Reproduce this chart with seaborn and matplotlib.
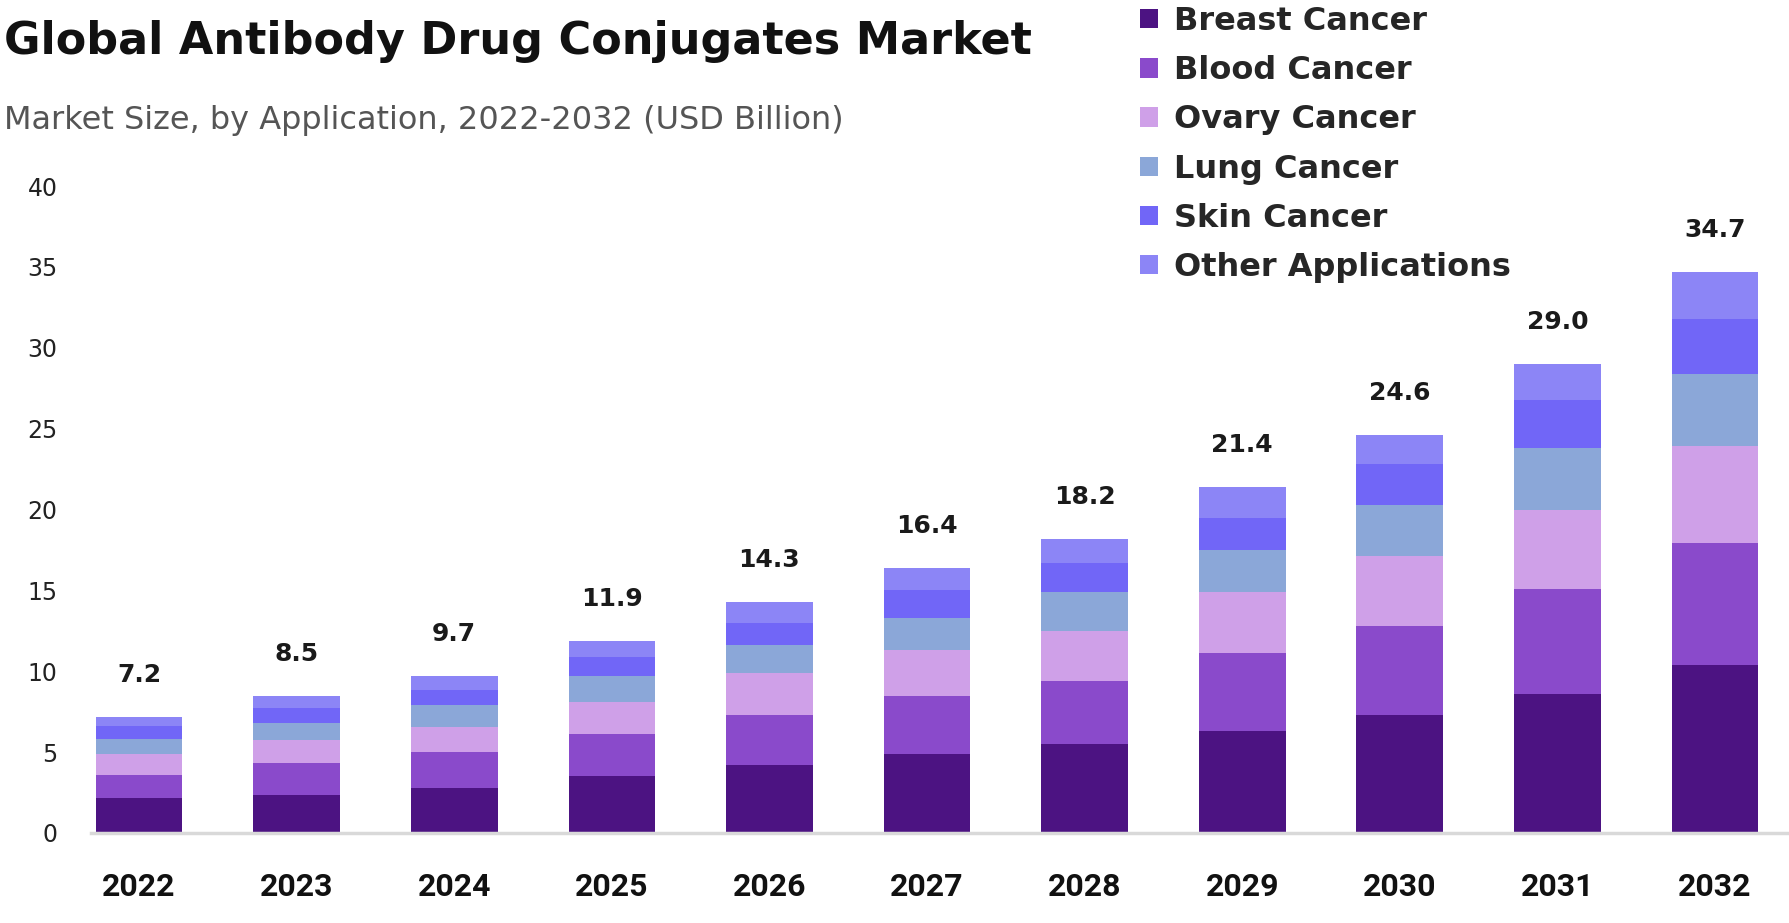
import matplotlib
matplotlib.use("Agg")
import numpy as np
import pandas as pd
import seaborn as sns
import matplotlib.pyplot as plt
from matplotlib.patches import Patch

# ---------------- data ----------------
years = ["2022", "2023", "2024", "2025", "2026", "2027", "2028", "2029", "2030", "2031", "2032"]
series_names = ["Breast Cancer", "Blood Cancer", "Ovary Cancer", "Lung Cancer", "Skin Cancer", "Other Applications"]
breast = [2.16, 2.35, 2.77, 3.5, 4.2, 4.9, 5.5, 6.3, 7.3, 8.6, 10.4]
blood = [1.44, 1.97, 2.21, 2.6, 3.1, 3.6, 3.9, 4.8, 5.5, 6.5, 7.5]
ovary = [1.27, 1.43, 1.60, 2.0, 2.6, 2.8, 3.1, 3.8, 4.3, 4.9, 6.0]
lung = [0.94, 1.05, 1.33, 1.6, 1.7, 2.0, 2.4, 2.6, 3.2, 3.8, 4.5]
skin = [0.83, 0.95, 0.94, 1.2, 1.4, 1.7, 1.8, 2.0, 2.5, 3.0, 3.4]
other = [0.56, 0.75, 0.85, 1.0, 1.3, 1.4, 1.5, 1.9, 1.8, 2.2, 2.9]
totals = [7.2, 8.5, 9.7, 11.9, 14.3, 16.4, 18.2, 21.4, 24.6, 29.0, 34.7]
y_ticks = [0, 5, 10, 15, 20, 25, 30, 35, 40]

colors = ["#4C1382", "#8A4ACB", "#CFA0E8", "#8BA7D8", "#7166F7", "#8C85F6"]

title = "Global Antibody Drug Conjugates Market"
subtitle = "Market Size, by Application, 2022-2032 (USD Billion)"

# ---------------- style ----------------
sns.set_theme(style="white")
plt.rcParams["font.family"] = ["DejaVu Sans"]

W, H = 1790, 923
fig = plt.figure(figsize=(W / 100, H / 100), dpi=100)
ax = fig.add_axes([91 / W, (H - 833) / H, 1 - 91 / W, (833 - 186) / H])

values = [breast, blood, ovary, lung, skin, other]
cum = np.cumsum(np.array(values), axis=0)

# draw cumulative tops from highest to lowest so they overlay into stacks
for i in range(len(series_names) - 1, -1, -1):
    df = pd.DataFrame({"Year": years, "Top": cum[i]})
    sns.barplot(data=df, x="Year", y="Top", order=years, color=colors[i],
                width=0.55, saturation=1, linewidth=0, ax=ax)

for i, t in enumerate(totals):
    ax.annotate(f"{t:.1f}", xy=(i, t), xytext=(0, 30), textcoords="offset pixels",
                ha="center", va="bottom", fontsize=18, fontweight="bold", color="#1a1a1a")

ax.set_ylim(0, 40)
ax.set_xlim(-0.305, 10.476)
ax.set_yticks(y_ticks)
ax.set_yticklabels([str(v) for v in y_ticks])
ax.set_xlabel("")
ax.set_ylabel("")
for s in ["top", "right", "left"]:
    ax.spines[s].set_visible(False)
ax.spines["bottom"].set_color("#d9d9d9")
ax.spines["bottom"].set_linewidth(2.5)
ax.tick_params(axis="y", length=0, pad=24, labelsize=17, labelcolor="#222222")
ax.tick_params(axis="x", length=0, pad=28, labelsize=23, labelcolor="#111111")
for lab in ax.get_xticklabels():
    lab.set_family(["Roboto", "DejaVu Sans"])
    lab.set_fontweight("bold")

# title / subtitle
fig.text(4 / W, 1 - 54 / H, title, fontsize=32, fontweight="bold",
         color="#111111", va="baseline", ha="left")
fig.text(4 / W, 1 - 129 / H, subtitle, fontsize=23, color="#555555",
         va="baseline", ha="left")

handles = [Patch(facecolor=c, edgecolor="none", label=n) for c, n in zip(colors, series_names)]
fig.legend(handles=handles, loc="upper left", bbox_to_anchor=(1140 / W, 1 - 6 / H),
           frameon=False, prop={"weight": "bold", "size": 23},
           handlelength=0.55, handleheight=0.55, handletextpad=0.5,
           labelspacing=0.57, borderaxespad=0, borderpad=0)

fig.savefig("out.png", dpi=100)
